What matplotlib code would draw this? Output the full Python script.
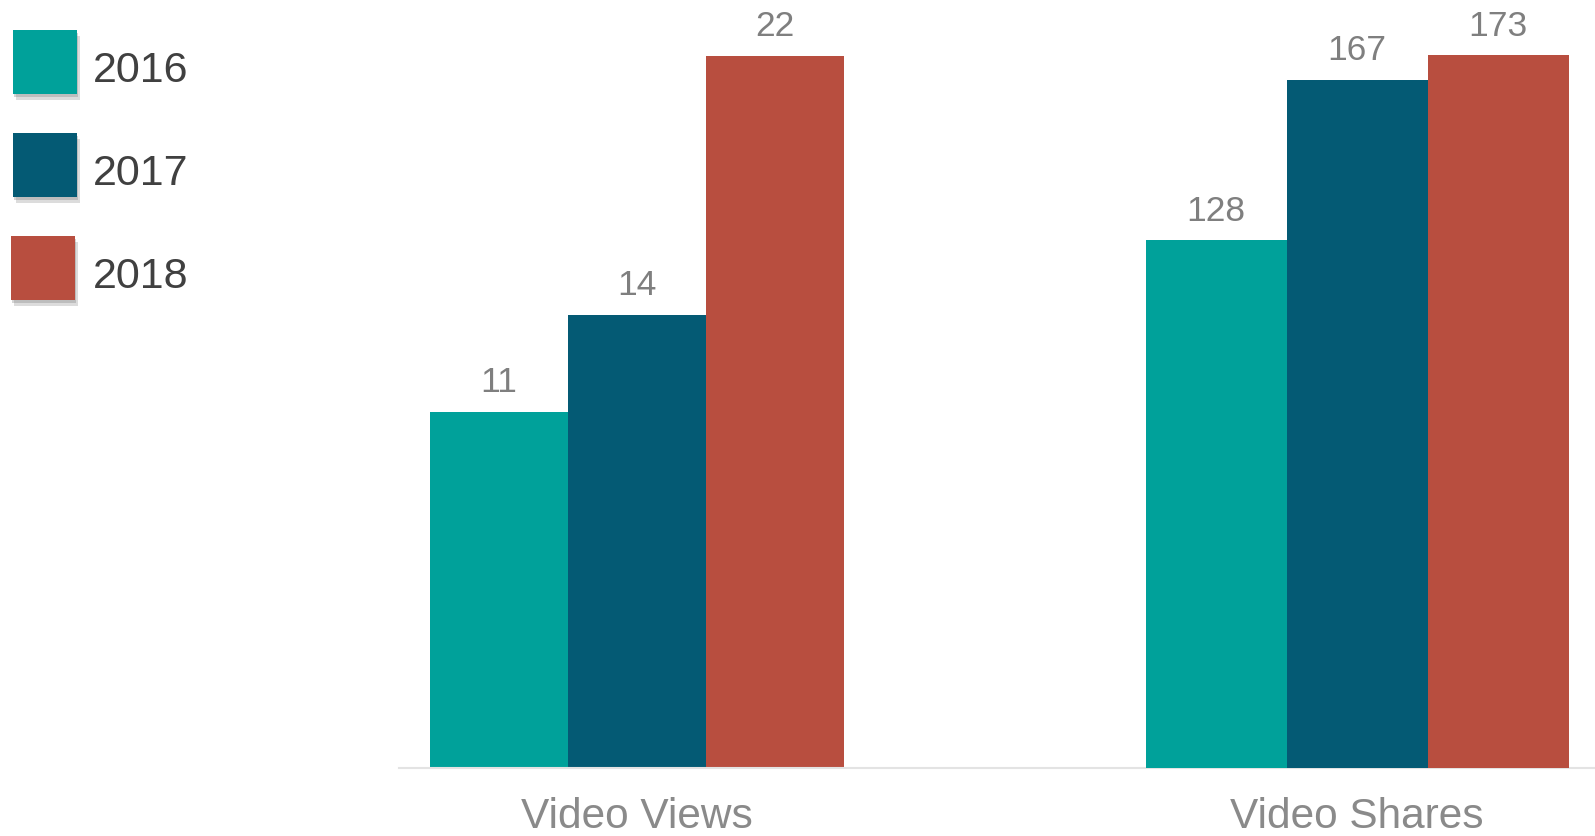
import matplotlib.pyplot as plt
import matplotlib.patheffects as pe
from matplotlib.patches import Rectangle
import numpy as np

plt.rcParams['font.family'] = ['Liberation Sans', 'DejaVu Sans']

categories = ['Video Views', 'Video Shares']
years = ['2016', '2017', '2018']
views = [11, 14, 22]
shares = [128, 167, 173]
colors = ['#00A19A', '#045A74', '#B84E3F']

fig = plt.figure(figsize=(15.95, 8.36), dpi=100)
ax = fig.add_axes([399 / 1595, 68.3 / 836, 1196 / 1595, 767.7 / 836])
ax2 = ax.twinx()

w_views, w_shares = 0.1915, 0.1957
steps = np.array([-1, 0, 1])

# each group gets its own y scale, so its tallest bar reaches the same height
for i in range(3):
    b1 = ax.bar(0 + steps[i] * w_views, views[i], w_views, color=colors[i])
    b2 = ax2.bar(1 + steps[i] * w_shares, shares[i], w_shares, color=colors[i])
    ax.bar_label(b1, padding=9, fontsize=25.5, color='#7f7f7f')
    ax2.bar_label(b2, padding=9, fontsize=25.5, color='#7f7f7f')

ax.set_ylim(0, max(views) * 767.7 / 711.7)
ax2.set_ylim(0, max(shares) * 767.7 / 712.7)
ax.set_xlim(-0.33, 1.33)

ax.set_xticks([0, 1])
ax.set_xticklabels(categories, fontsize=30.5, color='#8a8a8a')
ax.tick_params(axis='x', length=0, pad=21)
ax.set_yticks([])
ax2.set_yticks([])
for a in (ax, ax2):
    for s in ['top', 'left', 'right']:
        a.spines[s].set_visible(False)
ax2.spines['bottom'].set_visible(False)
ax.spines['bottom'].set_color('#e3e3e3')
ax.spines['bottom'].set_linewidth(1.5)

# legend swatches with a soft drop shadow
shadow = [pe.SimplePatchShadow(offset=(2, -4), shadow_rgbFace='#777777', alpha=0.25),
          pe.SimplePatchShadow(offset=(1, -2), shadow_rgbFace='#777777', alpha=0.3),
          pe.Normal()]
W, H = 1595, 836
swatch_tops = [30, 133, 236]
swatch_left = [13, 13, 11]
for i, year in enumerate(years):
    top = swatch_tops[i]
    r = Rectangle((swatch_left[i] / W, 1 - (top + 64) / H), 64 / W, 64 / H,
                  transform=fig.transFigure, facecolor=colors[i], edgecolor='none',
                  path_effects=shadow)
    fig.add_artist(r)
    fig.text(93 / W, 1 - (top + 41) / H, year, fontsize=31, color='#404040',
             va='center', ha='left')

fig.savefig('out.png', dpi=100)
